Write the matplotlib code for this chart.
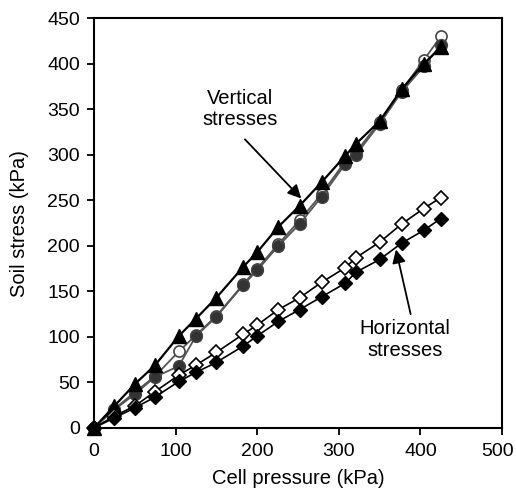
import matplotlib.pyplot as plt
from matplotlib.transforms import ScaledTranslation

# Cell pressure steps (kPa)
cell_pressure = [0, 25, 50, 75, 104, 125, 150, 183, 200, 226, 252, 279, 308, 321, 350, 377, 404, 425]

# Vertical soil stresses (kPa)
vert_triangle = [0, 24, 48, 69, 101, 120, 143, 177, 193, 221, 244, 270, 299, 312, 337, 372, 400, 418]
vert_circle_open = [0, 21, 39, 57, 84, 102, 123, 158, 175, 202, 228, 257, 293, 303, 336, 371, 404, 430]
vert_circle_filled = [0, 20, 37, 56, 68, 101, 122, 157, 173, 200, 224, 254, 290, 300, 334, 369, 397, 421]

# Horizontal soil stresses (kPa)
horiz_open = [0, 13, 24, 40, 58, 69, 83, 103, 113, 130, 143, 160, 176, 187, 204, 224, 241, 253]
horiz_filled = [0, 11, 22, 34, 51, 61, 72, 90, 101, 117, 130, 144, 159, 171, 185, 203, 217, 230]

plt.rcParams.update({
    "font.size": 14,
    "font.family": ["Liberation Sans", "DejaVu Sans"],
})

fig = plt.figure(figsize=(5.16, 4.93), dpi=100)
ax = fig.add_axes([0.182, 0.132, 0.791, 0.831])

# circles first, triangles on top
ax.plot(cell_pressure, vert_circle_open, color="#555555", lw=1.3, marker="o",
        ms=8, mfc="white", mec="#444444", mew=1.2)
ax.plot(cell_pressure, vert_circle_filled, color="#555555", lw=1.3, marker="o",
        ms=8.5, mfc="#333333", mec="#444444", mew=1.0)
ax.plot(cell_pressure, vert_triangle, color="black", lw=1.6, marker="^",
        ms=10.5, mfc="black", mec="black")

ax.plot(cell_pressure, horiz_open, color="black", lw=1.2, marker="D",
        ms=7, mfc="white", mec="black", mew=1.2)
ax.plot(cell_pressure, horiz_filled, color="black", lw=1.2, marker="D",
        ms=7, mfc="black", mec="black")

arrow = dict(arrowstyle="-|>", mutation_scale=20, color="black", lw=1.3,
             shrinkA=0, shrinkB=0)
ax.annotate("", xy=(254, 252), xytext=(185, 317), arrowprops=arrow)
ax.text(179, 350, "Vertical\nstresses", ha="center", va="center",
        fontsize=14.5, linespacing=1.15)
ax.annotate("", xy=(370, 196), xytext=(388, 125), arrowprops=arrow)
ax.text(381, 97, "Horizontal\nstresses", ha="center", va="center",
        fontsize=14.5, linespacing=1.15)

ax.set_xlim(0, 500)
ax.set_ylim(0, 450)
ax.set_xticks(range(0, 501, 100))
ax.set_yticks(range(0, 451, 50))
ax.set_xlabel("Cell pressure (kPa)", fontsize=14.5, labelpad=6)
ax.set_ylabel("Soil stress (kPa)", fontsize=14.5, labelpad=13)

for s in ax.spines.values():
    s.set_linewidth(1.5)
ax.tick_params(direction="out", length=5, width=1.3, labelsize=14)
ax.tick_params(axis="x", pad=6)
ax.tick_params(axis="y", pad=5)
for line in ax.lines:
    line.set_clip_on(False)

# nudge the last x tick label so it stays inside the figure
fig.canvas.draw()
last = ax.xaxis.get_major_ticks()[-1].label1
last.set_transform(last.get_transform() + ScaledTranslation(-3 / 72, 0, fig.dpi_scale_trans))

fig.savefig("out.png", dpi=100)
